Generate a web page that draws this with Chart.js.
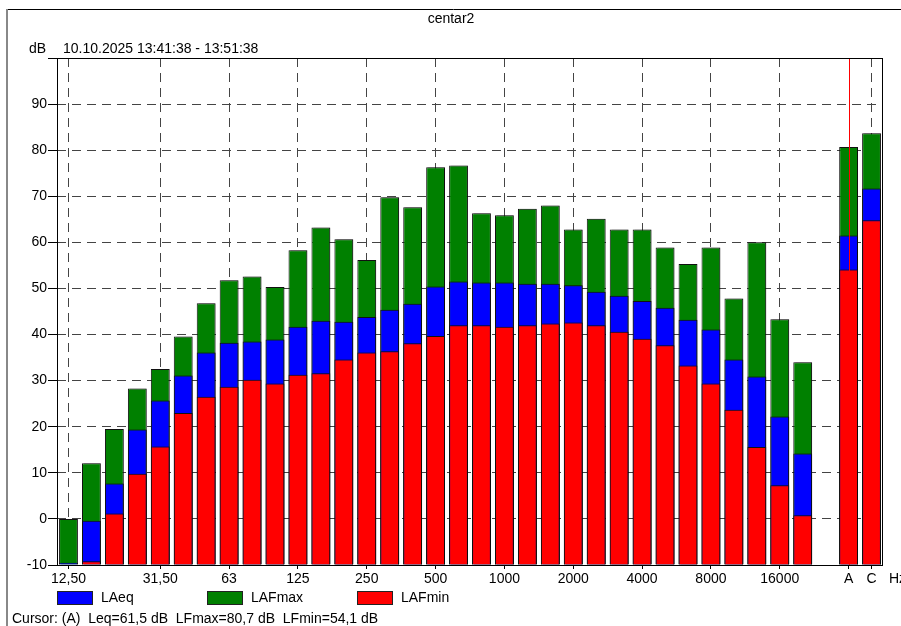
<!DOCTYPE html>
<html>
<head>
<meta charset="utf-8">
<script src="https://cdn.jsdelivr.net/npm/chart.js@4"></script>
<style>
  html, body { margin: 0; padding: 0; background: #fff; }
  #wrap { width: 901px; height: 626px; position: relative; }
</style>
</head>
<body>
<div id="wrap"><canvas id="chart" width="901" height="626"></canvas></div>
<script>
// bandas de 1/3 de octava + hueco + A y C
const bands = ['12,50','16','20','25','31,50','40','50','63','80','100','125','160','200','250','315','400','500','630','800','1000','1250','1600','2000','2500','3150','4000','5000','6300','8000','10000','12500','16000','20000','','A','C'];
const tickLabels = ['12,50','31,50','63','125','250','500','1000','2000','4000','8000','16000','A','C'];

const laeq   = [-9.5,-0.4,7.7,19.4,25.7,31.1,36.1,38.2,38.5,38.9,41.7,43.0,42.8,43.8,45.4,46.7,50.4,51.5,51.3,51.3,51.0,51.0,50.7,49.3,48.4,47.3,45.8,43.2,41.1,34.6,30.9,22.2,14.2,null,61.5,71.7];
const lafmax = [0.0,12.1,19.5,28.3,32.5,39.6,46.8,51.8,52.6,50.3,58.3,63.2,60.7,56.2,69.8,67.6,76.3,76.7,66.3,65.9,67.3,68.0,62.8,65.1,62.8,62.8,58.9,55.3,58.9,47.8,60.0,43.3,34.0,null,80.7,83.7];
const lafmin = [-11,-9.2,1.2,9.8,15.7,23.0,26.5,28.7,30.2,29.4,31.3,31.6,34.6,36.1,36.4,38.1,39.7,42.0,42.0,41.7,42.0,42.4,42.6,42.0,40.6,39.1,37.7,33.3,29.4,23.7,15.6,7.3,0.8,null,54.1,64.8];

const cursorBand = 'A';
const FONT = '14px "Liberation Sans", Arial, sans-serif';

const decor = {
    id: 'decor',
    beforeDatasetsDraw(chart) {
        const ctx = chart.ctx;
        ctx.save();
        // sombra gris a la derecha de las barras
        ctx.shadowColor = 'rgba(0,0,0,0.28)';
        ctx.shadowOffsetX = 2;
        ctx.shadowOffsetY = 0;
        ctx.shadowBlur = 0;
    },
    afterDatasetsDraw(chart) {
        const { ctx, chartArea: a, scales } = chart;
        ctx.restore();
        // linea del cursor
        const cx = Math.round(scales.x.getPixelForValue(bands.indexOf(cursorBand)));
        ctx.save();
        ctx.fillStyle = '#ff0000';
        ctx.fillRect(cx, a.top, 1, a.bottom - a.top);
        // marco del area
        ctx.strokeStyle = '#000';
        ctx.lineWidth = 1;
        ctx.strokeRect(a.left + 0.5, a.top + 0.5, a.right - a.left - 1, a.bottom - a.top);
        ctx.restore();
    },
    afterDraw(chart) {
        const { ctx } = chart;
        ctx.save();
        // marco exterior
        ctx.strokeStyle = '#000';
        ctx.beginPath();
        ctx.moveTo(6, 9.5); ctx.lineTo(901, 9.5);
        ctx.stroke();
        ctx.strokeStyle = '#888';
        ctx.lineWidth = 2;
        ctx.beginPath();
        ctx.moveTo(7, 9); ctx.lineTo(7, 626);
        ctx.stroke();

        ctx.font = FONT;
        ctx.fillStyle = '#000';
        ctx.textBaseline = 'middle';
        ctx.textAlign = 'center';
        ctx.fillText('centar2', 451, 19);
        ctx.textAlign = 'left';
        ctx.fillText('dB', 29, 49);
        ctx.fillText('10.10.2025 13:41:38 - 13:51:38', 63, 49);
        ctx.fillText('Hz', 889, 579);

        // leyenda
        const items = [['LAeq', '#0000ff', 57], ['LAFmax', '#008000', 207], ['LAFmin', '#ff0000', 357]];
        items.forEach(([txt, col, x]) => {
            ctx.fillStyle = col;
            ctx.fillRect(x, 591, 35, 13);
            ctx.strokeStyle = '#222';
            ctx.lineWidth = 1;
            ctx.strokeRect(x + 0.5, 591.5, 35, 13);
            ctx.fillStyle = '#000';
            ctx.fillText(txt, x + 44, 598);
        });
        ctx.fillText('Cursor: (A)  Leq=61,5 dB  LFmax=80,7 dB  LFmin=54,1 dB', 12, 619);
        ctx.restore();
    }
};

function barSet(label, data, color, order) {
    return {
        label: label,
        data: data,
        backgroundColor: color,
        borderColor: '#111',
        borderWidth: 1,
        base: -10,
        order: order,
        clip: 0,
        categoryPercentage: 0.82,
        barPercentage: 1
    };
}

const gridColor = c => (tickLabels.includes(bands[c.index]) && bands[c.index] !== cursorBand) ? '#444' : 'rgba(0,0,0,0)';

new Chart(document.getElementById('chart'), {
    type: 'bar',
    data: {
        labels: bands,
        datasets: [
            barSet('LAeq', laeq, '#0000ff', 1),
            barSet('LAFmax', lafmax, '#008000', 2),
            barSet('LAFmin', lafmin, '#ff0000', 0)
        ]
    },
    plugins: [decor],
    options: {
        responsive: false,
        animation: false,
        layout: { padding: { left: 0, top: 58, right: 18, bottom: 37 } },
        plugins: { legend: { display: false }, tooltip: { enabled: false } },
        scales: {
            x: {
                stacked: true,
                offset: true,
                afterFit: s => { s.height = 24; },
                grid: {
                    offset: false,
                    color: gridColor,
                    tickColor: c => tickLabels.includes(bands[c.index]) ? '#000' : 'rgba(0,0,0,0)',
                    tickLength: 4
                },
                border: { display: false, dash: [9, 6] },
                ticks: {
                    autoSkip: false,
                    maxRotation: 0,
                    padding: 2,
                    color: '#000',
                    font: { family: '"Liberation Sans", Arial, sans-serif', size: 14 },
                    callback: function (v, i) { return tickLabels.includes(bands[i]) ? bands[i] : ''; }
                }
            },
            y: {
                stacked: false,
                min: -10,
                max: 100,
                afterFit: s => { s.width = 57; },
                grid: {
                    color: c => (c.tick && (c.tick.value === -10 || c.tick.value === 100)) ? 'rgba(0,0,0,0)' : '#444',
                    tickColor: '#000',
                    tickLength: 9
                },
                border: { display: false, dash: [9, 6] },
                ticks: {
                    stepSize: 10,
                    padding: 1,
                    color: '#000',
                    font: { family: '"Liberation Sans", Arial, sans-serif', size: 14 },
                    callback: v => v === 100 ? '' : v
                }
            }
        }
    }
});
</script>
</body>
</html>
